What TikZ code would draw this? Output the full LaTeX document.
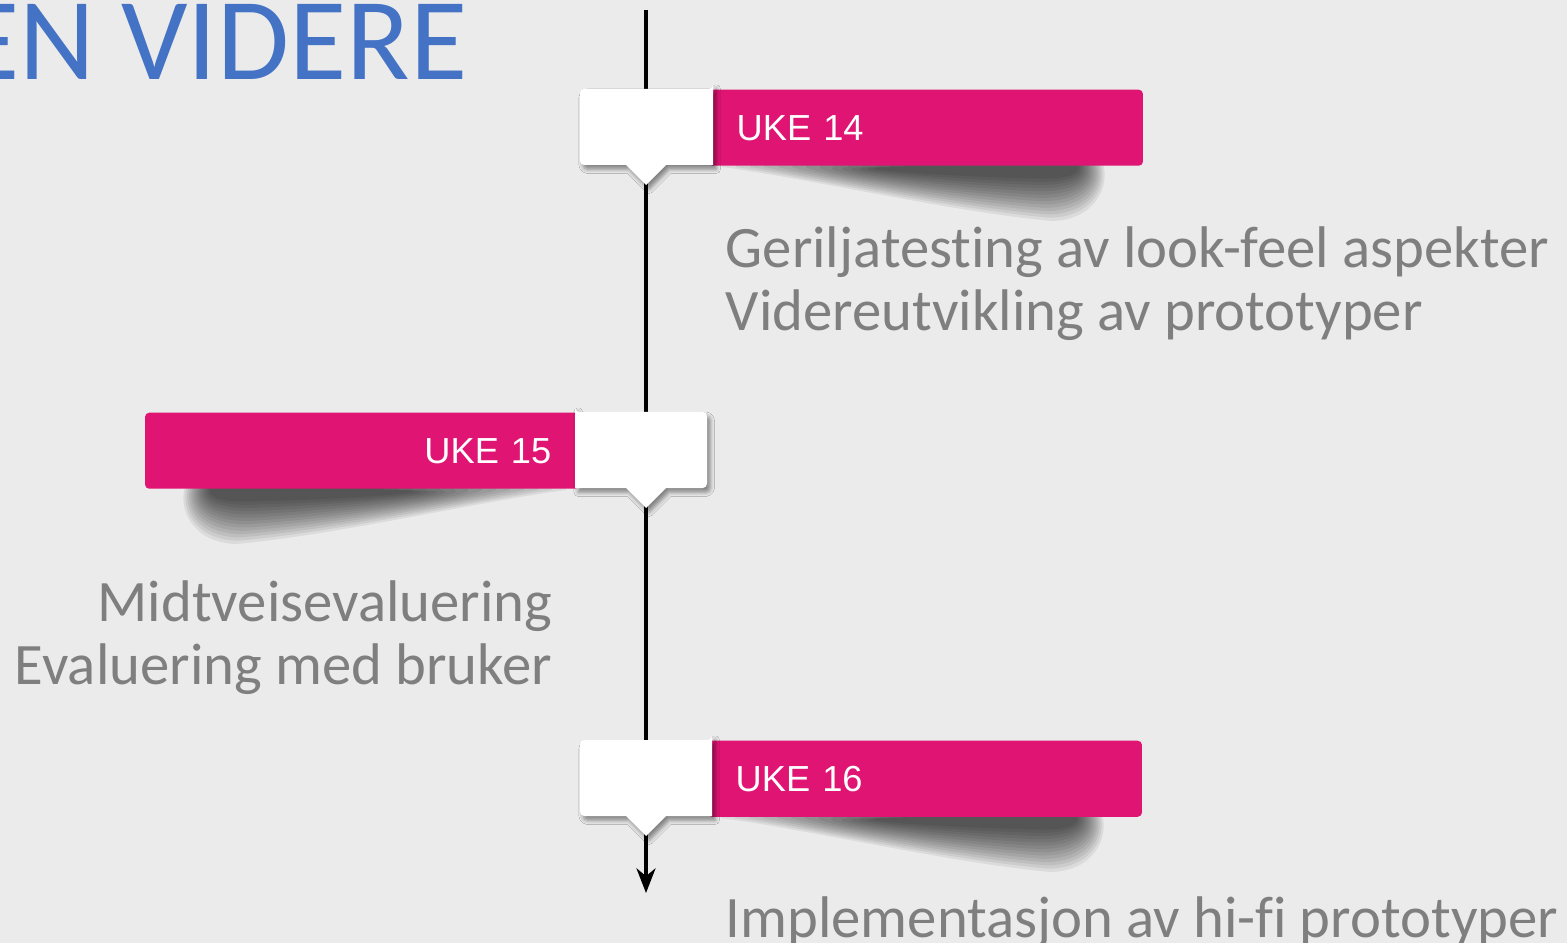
\documentclass[tikz,border=0pt]{standalone}
\usepackage{fontspec}
\setmainfont{Carlito}[Ligatures=CommonOff]
\newfontfamily\arialfont{Liberation Sans}
\usetikzlibrary{arrows.meta, shadows.blur}
\definecolor{cloud}{RGB}{235, 235, 235}
\definecolor{ruby}{RGB}{224, 20, 115}
\definecolor{denim}{RGB}{68, 114, 196}
\definecolor{slate}{RGB}{127, 127, 127}

\tikzset{
  ukebox/.style={fill=ruby, rounded corners=1.2pt, minimum height=0.76cm, text width=3.78cm,
                 inner xsep=0.28cm, inner ysep=0pt, text=white,
                 font=\arialfont\fontsize{10.3}{12}\selectfont},
  tabshadow/.style={blur shadow={shadow xshift=0.9pt, shadow yshift=-1.2pt,
                    shadow blur radius=1.2pt, shadow opacity=45}},
  note/.style={text=slate, inner sep=0pt, font=\fontsize{16.7}{20}\selectfont},
  % stacked translucent layers, darker towards the bar
  curl/.pic={
    \foreach \k in {0,...,13}
      \fill[black, opacity=0.065]
        (-420+\k*14, -5) -- (-40-\k*2, -5)
        .. controls (-30-\k*2, 22-\k*1) and (-48-\k*2, 55-\k*3) .. (-90-\k*2, 56-\k*3.3)
        .. controls (-190, 47-\k*2.7) and (-330, 14-\k*0.9) .. (-420+\k*14, 2) -- cycle;
  }
}

\begin{document}
\begin{tikzpicture}[x=0.01cm, y=-0.01cm]
    % Background
    \path[use as bounding box, fill=cloud] (0,0) rectangle (1567,943);
    \node[anchor=base east, inner sep=0pt, text=denim, font=\fontsize{33.3}{40}\selectfont]
         (title) at (468,80) {EN VIDERE};
    % Curled shadows under the bars
    \pic at (1142,165) {curl};
    \pic[xscale=-1] at (146,488) {curl};
    \pic at (1141,816) {curl};
    % Time axis
    \coordinate (top)    at (646,10);
    \coordinate (bottom) at (646,893);
    \draw[line width=1pt, -{Stealth[length=7pt, width=5.4pt, inset=2.2pt]}] (top) -- (bottom);
    % Week 14
    \node[ukebox, anchor=north west, align=left] (uke14) at (708,89) {UKE 14};
    \fill[white, tabshadow] (713,89) -- (713,165) -- (666,165) -- (646,185) -- (626,165)
         {[rounded corners=1.2pt] -- (580,165) -- (580,89) -- (713,89)} -- cycle;
    % Week 15
    \node[ukebox, anchor=north east, align=right] (uke15) at (580,412) {UKE 15};
    \fill[white, tabshadow] (575,412) -- (575,488) -- (626,488) -- (646,508) -- (666,488)
         {[rounded corners=1.2pt] -- (707,488) -- (707,412) -- (575,412)} -- cycle;
    % Week 16
    \node[ukebox, anchor=north west, align=left] (uke16) at (707,740) {UKE 16};
    \fill[white, tabshadow] (712,740) -- (712,816) -- (666,816) -- (646,836) -- (626,816)
         {[rounded corners=1.2pt] -- (580,816) -- (580,740) -- (712,740)} -- cycle;
    % Notes
    \node[note, anchor=base west] (task14a) at (725,268) {Geriljatesting av look-feel aspekter};
    \node[note, anchor=base west] (task14b) at (725,331) {Videreutvikling av prototyper};
    \node[note, anchor=base east] (task15a) at (553,621) {Midtveisevaluering};
    \node[note, anchor=base east] (task15b) at (553,684) {Evaluering med bruker};
    \node[note, anchor=base west] (task16a) at (725,937) {Implementasjon av hi-fi prototyper};
\end{tikzpicture}
\end{document}
